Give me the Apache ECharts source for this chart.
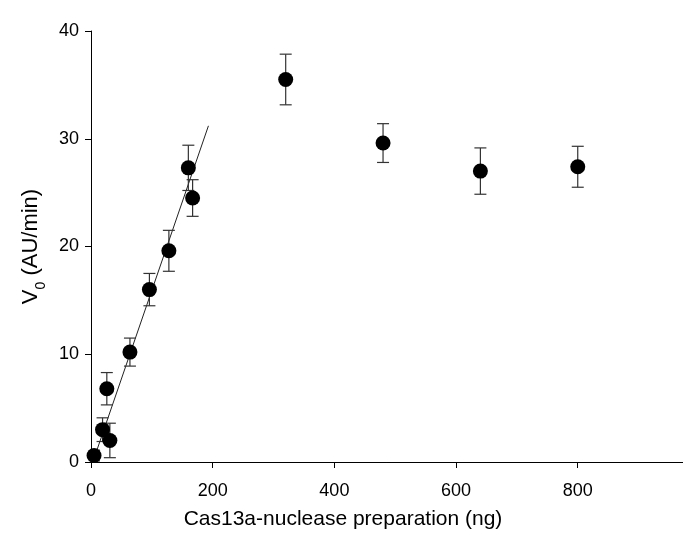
<!DOCTYPE html>
<html>
<head>
<meta charset="utf-8">
<script src="https://cdn.jsdelivr.net/npm/echarts@6/dist/echarts.min.js"></script>
<style>html,body{margin:0;padding:0;background:#fff}#c{width:683px;height:535px}</style>
</head>
<body>
<div id="c"></div>
<script>
// Data
const xVals = [5, 19, 26, 31, 64, 96, 128, 160, 167, 320, 480, 640, 800];
const yVals = [0.6, 3.0, 6.8, 2.0, 10.2, 16.0, 19.6, 27.3, 24.5, 35.5, 29.6, 27.0, 27.4];
const errVals = [0.5, 1.1, 1.5, 1.6, 1.3, 1.5, 1.9, 2.1, 1.7, 2.35, 1.8, 2.15, 1.9];
const fitX = [3, 193];
const fitY = [0, 31.2];
const xTicks = [0, 200, 400, 600, 800];

const points = xVals.map((x, i) => [x, yVals[i]]);
const errData = xVals.map((x, i) => [x, yVals[i], errVals[i]]);
const fitData = fitX.map((x, i) => [x, fitY[i]]);

const font = '"Liberation Sans", Arial, sans-serif';
const chart = echarts.init(document.getElementById('c'));
chart.setOption({
  animation: false,
  backgroundColor: '#fff',
  grid: { left: 91, top: 31, right: 0, bottom: 73, containLabel: false },
  xAxis: {
    type: 'value', min: 0, max: 973,
    axisLine: { show: true, onZero: false, lineStyle: { color: '#000', width: 1 } },
    axisTick: { show: true, length: 6, customValues: xTicks, lineStyle: { color: '#000' } },
    axisLabel: { customValues: xTicks, color: '#000', fontFamily: font, fontSize: 18, margin: 20 },
    splitLine: { show: false },
    name: 'Cas13a-nuclease preparation (ng)',
    nameLocation: 'middle', nameGap: 47,
    nameTextStyle: { color: '#000', fontFamily: font, fontSize: 21, padding: [0, 88, 0, 0] }
  },
  yAxis: {
    type: 'value', min: 0, max: 40, interval: 10,
    axisLine: { show: true, onZero: false, lineStyle: { color: '#000', width: 1 } },
    axisTick: { show: true, length: 6, lineStyle: { color: '#000' } },
    axisLabel: { color: '#000', fontFamily: font, fontSize: 18, margin: 12 },
    splitLine: { show: false },
    name: '{a|V}{b|0}{a| (AU/min)}',
    nameLocation: 'middle', nameGap: 49, nameRotate: 90,
    nameTextStyle: {
      color: '#000', fontFamily: font, fontSize: 22,
      rich: {
        a: { fontFamily: font, fontSize: 22, color: '#000' },
        b: { fontFamily: font, fontSize: 14, color: '#000', verticalAlign: 'bottom', padding: [0, 0, -6, 0] }
      }
    }
  },
  series: [
    {
      type: 'line', data: fitData, showSymbol: false, symbol: 'none',
      lineStyle: { color: '#222', width: 1 }, z: 1, silent: true
    },
    {
      type: 'custom', data: errData, clip: true, z: 2,
      renderItem: function (params, api) {
        const x = api.value(0), y = api.value(1), e = api.value(2);
        const hi = api.coord([x, y + e]);
        const lo = api.coord([x, y - e]);
        const h = 6;
        const st = { stroke: '#333', lineWidth: 1.2 };
        return {
          type: 'group',
          children: [
            { type: 'line', shape: { x1: hi[0], y1: hi[1], x2: lo[0], y2: lo[1] }, style: st },
            { type: 'line', shape: { x1: hi[0] - h, y1: hi[1], x2: hi[0] + h, y2: hi[1] }, style: st },
            { type: 'line', shape: { x1: lo[0] - h, y1: lo[1], x2: lo[0] + h, y2: lo[1] }, style: st }
          ]
        };
      }
    },
    {
      type: 'scatter', data: points, symbol: 'circle', symbolSize: 15, z: 3,
      itemStyle: { color: '#000', opacity: 1 }
    }
  ]
});
</script>
</body>
</html>
